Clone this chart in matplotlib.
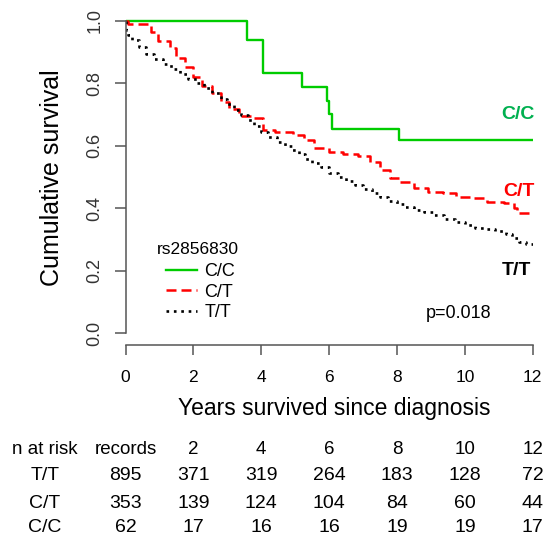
import matplotlib
matplotlib.use("Agg")
import matplotlib.pyplot as plt
from matplotlib.transforms import blended_transform_factory

plt.rcParams['font.family'] = ['Liberation Sans', 'DejaVu Sans']

# Kaplan-Meier steps (years, survival after the step)
cc_time = [0, 3.59, 4.06, 5.21, 5.93, 6.0, 6.08, 8.06]
cc_surv = [1.0, 0.938, 0.834, 0.787, 0.745, 0.701, 0.655, 0.619]

ct_time = [0, 0.08, 0.75, 0.95, 1.3, 1.5, 1.75, 2.0, 2.25, 2.55, 2.8, 3.05, 3.35,
           3.7, 4.05, 4.4, 4.95, 5.25, 5.55, 6.0, 6.4, 6.85, 7.2, 7.5, 7.8, 8.1,
           8.5, 8.9, 9.35, 9.75, 10.25, 10.65, 11.15, 11.45, 11.55]
ct_surv = [1.0, 0.99, 0.965, 0.935, 0.912, 0.88, 0.853, 0.821, 0.793, 0.768, 0.741,
           0.718, 0.696, 0.688, 0.651, 0.645, 0.635, 0.619, 0.592, 0.581, 0.574,
           0.566, 0.549, 0.522, 0.496, 0.483, 0.464, 0.453, 0.448, 0.437, 0.432,
           0.421, 0.416, 0.40, 0.385]

tt_time = [0, 0.02, 0.08, 0.2, 0.4, 0.6, 0.85, 1.1, 1.35, 1.6, 1.85, 2.1, 2.3, 2.55,
           2.8, 3.0, 3.2, 3.4, 3.6, 3.8, 4.0, 4.2, 4.45, 4.7, 4.9, 5.1, 5.3, 5.5,
           5.75, 6.0, 6.25, 6.5, 6.75, 7.0, 7.25, 7.5, 7.75, 8.0, 8.25, 8.5, 8.8,
           9.1, 9.4, 9.7, 10.0, 10.3, 10.6, 10.9, 11.2, 11.4, 11.6, 11.8]
tt_surv = [1.0, 0.97, 0.955, 0.94, 0.915, 0.895, 0.878, 0.862, 0.846, 0.83, 0.815,
           0.8, 0.785, 0.768, 0.75, 0.733, 0.716, 0.70, 0.682, 0.662, 0.645, 0.628,
           0.612, 0.598, 0.585, 0.572, 0.558, 0.546, 0.532, 0.514, 0.5, 0.488,
           0.475, 0.46, 0.448, 0.435, 0.423, 0.413, 0.403, 0.394, 0.388, 0.378,
           0.365, 0.356, 0.347, 0.338, 0.332, 0.326, 0.316, 0.305, 0.293, 0.285]

end_time = 12

# number at risk table
risk_cols = ['records', '2', '4', '6', '8', '10', '12']
risk_col_x = [0, 2, 4, 6, 8, 10, 12]
risk_tt = [895, 371, 319, 264, 183, 128, 72]
risk_ct = [353, 139, 124, 104, 84, 60, 44]
risk_cc = [62, 17, 16, 16, 19, 19, 17]

fig = plt.figure(figsize=(5.49, 5.42), dpi=100)
ax = fig.add_axes([0.2286, 0.3626, 0.7417, 0.6218])

def km(t, s):
    return t + [end_time], s + [s[-1]]

x, y = km(cc_time, cc_surv)
ax.step(x, y, where='post', color='#00cc00', lw=1.7, label='C/C')
x, y = km(ct_time, ct_surv)
ax.step(x, y, where='post', color='#ff0000', lw=1.8, linestyle=(0, (4, 2)), label='C/T')
x, y = km(tt_time, tt_surv)
ax.step(x, y, where='post', color='black', lw=1.9, linestyle=(0, (1, 1.8)), label='T/T')

ax.set_xlim(0, 12)
ax.set_ylim(-0.04, 1.04)
for side in ['top', 'right']:
    ax.spines[side].set_visible(False)
ax.spines['left'].set_bounds(0, 1)
ax.spines['bottom'].set_bounds(0, 12)
for side in ['left', 'bottom']:
    ax.spines[side].set_color('#555555')
    ax.spines[side].set_linewidth(1.1)

ax.set_yticks([0, 0.2, 0.4, 0.6, 0.8, 1.0])
ax.set_yticklabels(['0.0', '0.2', '0.4', '0.6', '0.8', '1.0'], rotation=90,
                   va='center', fontsize=13, color='#333333')
ax.set_xticks(risk_col_x)
ax.set_xticklabels(['0', '2', '4', '6', '8', '10', '12'], fontsize=12.5)
ax.tick_params(axis='y', length=8, width=1.1, color='#555555', pad=8)
ax.tick_params(axis='x', length=7.5, width=1.1, color='#555555', pad=10)

fig.text(52 / 549, 0.673, 'Cumulative survival', rotation=90, ha='center',
         va='center', fontsize=18)

# group labels at the right end of the curves
ax.text(12.05, 0.70, 'C/C', color='#00b050', fontsize=14, fontweight='bold',
        ha='right', va='center')
ax.text(12.05, 0.454, 'C/T', color='#ff0000', fontsize=14, fontweight='bold',
        ha='right', va='center')
ax.text(11.95, 0.20, 'T/T', color='black', fontsize=14, fontweight='bold',
        ha='right', va='center')
ax.text(9.83, 0.063, 'p=0.018', fontsize=13, ha='center', va='center')

# legend
ax.text(0.92, 0.266, 'rs2856830', fontsize=12.5, ha='left', va='center')
ax.legend(frameon=False, loc='upper left', bbox_to_anchor=(1.18, 0.224),
          bbox_transform=ax.transData, borderaxespad=0, borderpad=0,
          handlelength=1.75, handletextpad=0.4, labelspacing=0.2, fontsize=13)

# x label and risk table, x in data, y in figure fraction
trans = blended_transform_factory(ax.transData, fig.transFigure)
ax.text(6.15, 1 - 408 / 542, 'Years survived since diagnosis', transform=trans,
        ha='center', va='center', fontsize=16.5, clip_on=False)

row_y = [1 - 449 / 542, 1 - 476 / 542, 1 - 503 / 542, 1 - 528 / 542]
label_x = -2.37
ax.text(label_x, row_y[0], 'n at risk', transform=trans, ha='center', va='center',
        fontsize=13.5, clip_on=False)
for cx, c in zip(risk_col_x, risk_cols):
    ax.text(cx, row_y[0], c, transform=trans, ha='center', va='center',
            fontsize=13.5, clip_on=False)
for yy, name, vals in zip(row_y[1:], ['T/T', 'C/T', 'C/C'], [risk_tt, risk_ct, risk_cc]):
    ax.text(label_x, yy, name, transform=trans, ha='center', va='center',
            fontsize=14, clip_on=False)
    for cx, v in zip(risk_col_x, vals):
        ax.text(cx, yy, str(v), transform=trans, ha='center', va='center',
                fontsize=14, clip_on=False)

fig.savefig('out.png', dpi=100)
